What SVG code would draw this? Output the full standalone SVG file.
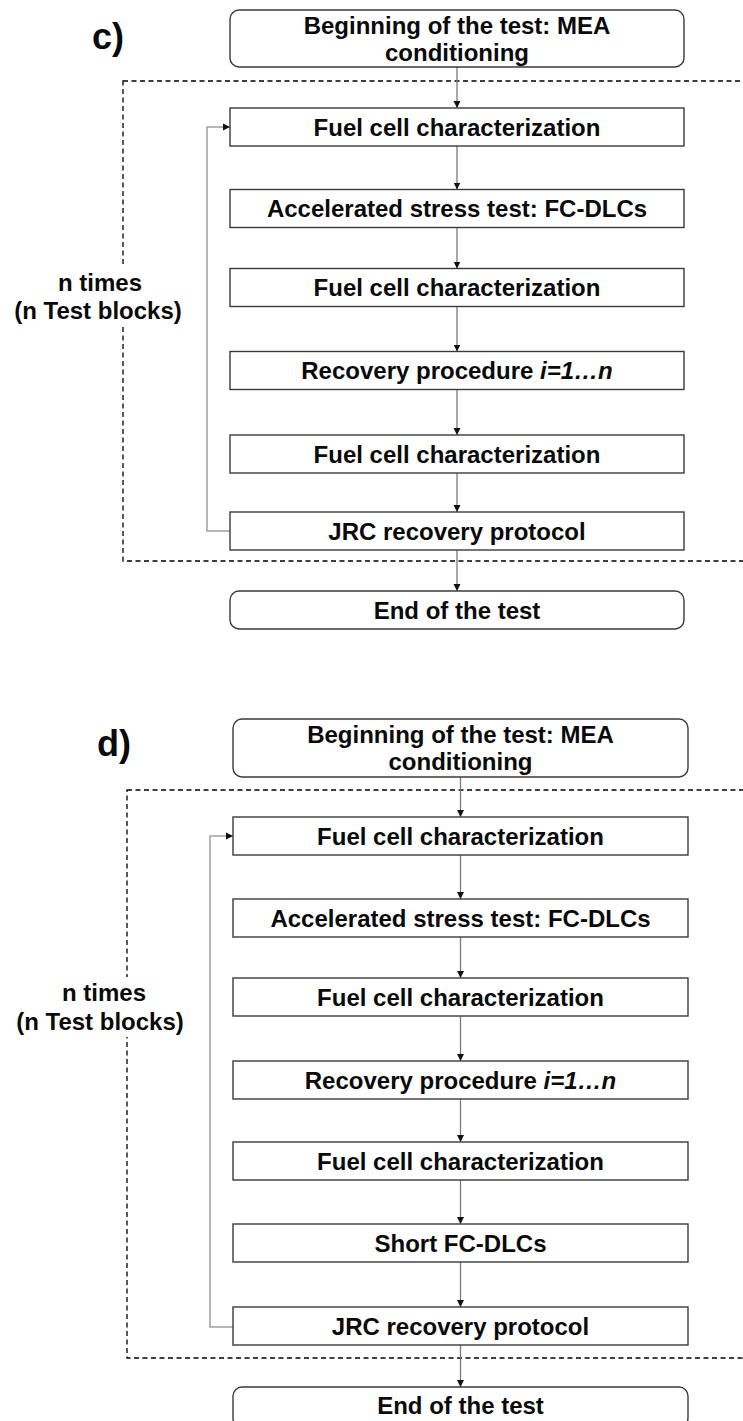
<svg xmlns="http://www.w3.org/2000/svg" width="743" height="1421" viewBox="0 0 743 1421">
  <style>
    .box { fill: #ffffff; stroke: #3a3a3a; stroke-width: 1.4; }
    .lbl { font-family: "Liberation Sans", Arial, sans-serif; font-weight: bold; font-size: 24px; fill: #0a0a0a; text-anchor: middle; }
    .tag { font-family: "Liberation Sans", Arial, sans-serif; font-weight: bold; font-size: 36px; fill: #0a0a0a; }
    .frame { fill: none; stroke: #000000; stroke-width: 1.3; stroke-dasharray: 5 3.5; }
    .flow { fill: none; stroke: #7a7a7a; stroke-width: 1.3; marker-end: url(#arrow); }
    .loop { fill: none; stroke: #a0a0a0; stroke-width: 1.5; marker-end: url(#arrow); }
    .mask { fill: #ffffff; }
  </style>
  <defs>
    <marker id="arrow" markerWidth="8" markerHeight="8" refX="7" refY="4" orient="auto" markerUnits="userSpaceOnUse">
      <path d="M0,0.5 L7,4 L0,7.5 Z" fill="#111111"/>
    </marker>
  </defs>
  <rect x="0" y="0" width="743" height="1421" fill="#ffffff"/>

  <!-- ===== Panel c ===== -->
  <text class="tag" x="92" y="49">c)</text>
  <rect class="frame" x="123" y="81" width="640" height="480"/>
  <g id="c-repeat-label">
    <rect class="mask" x="13" y="267" width="177" height="60"/>
    <text class="lbl" x="100" y="291">n times</text>
    <text class="lbl" x="98" y="319">(n Test blocks)</text>
  </g>

  <g id="c-connectors">
    <line class="flow" x1="457" y1="67" x2="457" y2="108"/>
    <line class="flow" x1="457" y1="146" x2="457" y2="189.5"/>
    <line class="flow" x1="457" y1="227.5" x2="457" y2="268.5"/>
    <line class="flow" x1="457" y1="306.5" x2="457" y2="351.5"/>
    <line class="flow" x1="457" y1="389.5" x2="457" y2="435"/>
    <line class="flow" x1="457" y1="473" x2="457" y2="512"/>
    <line class="flow" x1="457" y1="550" x2="457" y2="591"/>
    <polyline class="loop" points="230,531 207,531 207,127 230,127"/>
  </g>

  <g id="c-start">
    <rect class="box" x="230" y="10" width="454" height="57" rx="9"/>
    <text class="lbl" x="457" y="34">Beginning of the test: MEA</text>
    <text class="lbl" x="457" y="61">conditioning</text>
  </g>
  <g id="c-char1">
    <rect class="box" x="230" y="108" width="454" height="38"/>
    <text class="lbl" x="457" y="135.5">Fuel cell characterization</text>
  </g>
  <g id="c-ast">
    <rect class="box" x="230" y="189.5" width="454" height="38"/>
    <text class="lbl" x="457" y="217">Accelerated stress test: FC-DLCs</text>
  </g>
  <g id="c-char2">
    <rect class="box" x="230" y="268.5" width="454" height="38"/>
    <text class="lbl" x="457" y="296">Fuel cell characterization</text>
  </g>
  <g id="c-recovery">
    <rect class="box" x="230" y="351.5" width="454" height="38"/>
    <text class="lbl" x="457" y="379">Recovery procedure <tspan font-style="italic">i=1…n</tspan></text>
  </g>
  <g id="c-char3">
    <rect class="box" x="230" y="435" width="454" height="38"/>
    <text class="lbl" x="457" y="462.5">Fuel cell characterization</text>
  </g>
  <g id="c-jrc">
    <rect class="box" x="230" y="512" width="454" height="38"/>
    <text class="lbl" x="457" y="539.5">JRC recovery protocol</text>
  </g>
  <g id="c-end">
    <rect class="box" x="230" y="591" width="454" height="38" rx="9"/>
    <text class="lbl" x="457" y="618.5">End of the test</text>
  </g>

  <!-- ===== Panel d ===== -->
  <text class="tag" x="97" y="756">d)</text>
  <rect class="frame" x="127" y="790" width="640" height="568"/>
  <g id="d-repeat-label">
    <rect class="mask" x="15" y="977" width="178" height="60"/>
    <text class="lbl" x="104" y="1000.5">n times</text>
    <text class="lbl" x="100" y="1029.5">(n Test blocks)</text>
  </g>

  <g id="d-connectors">
    <line class="flow" x1="460.5" y1="777" x2="460.5" y2="817"/>
    <line class="flow" x1="460.5" y1="855" x2="460.5" y2="899"/>
    <line class="flow" x1="460.5" y1="937" x2="460.5" y2="978"/>
    <line class="flow" x1="460.5" y1="1016" x2="460.5" y2="1061"/>
    <line class="flow" x1="460.5" y1="1099" x2="460.5" y2="1142"/>
    <line class="flow" x1="460.5" y1="1180" x2="460.5" y2="1224"/>
    <line class="flow" x1="460.5" y1="1262" x2="460.5" y2="1307"/>
    <line class="flow" x1="460.5" y1="1345" x2="460.5" y2="1387"/>
    <polyline class="loop" points="233,1327 210,1327 210,836 233,836"/>
  </g>

  <g id="d-start">
    <rect class="box" x="233" y="719" width="455" height="58" rx="9"/>
    <text class="lbl" x="460.5" y="743">Beginning of the test: MEA</text>
    <text class="lbl" x="460.5" y="770">conditioning</text>
  </g>
  <g id="d-char1">
    <rect class="box" x="233" y="817" width="455" height="38"/>
    <text class="lbl" x="460.5" y="844.5">Fuel cell characterization</text>
  </g>
  <g id="d-ast">
    <rect class="box" x="233" y="899" width="455" height="38"/>
    <text class="lbl" x="460.5" y="926.5">Accelerated stress test: FC-DLCs</text>
  </g>
  <g id="d-char2">
    <rect class="box" x="233" y="978" width="455" height="38"/>
    <text class="lbl" x="460.5" y="1005.5">Fuel cell characterization</text>
  </g>
  <g id="d-recovery">
    <rect class="box" x="233" y="1061" width="455" height="38"/>
    <text class="lbl" x="460.5" y="1088.5">Recovery procedure <tspan font-style="italic">i=1…n</tspan></text>
  </g>
  <g id="d-char3">
    <rect class="box" x="233" y="1142" width="455" height="38"/>
    <text class="lbl" x="460.5" y="1169.5">Fuel cell characterization</text>
  </g>
  <g id="d-short">
    <rect class="box" x="233" y="1224" width="455" height="38"/>
    <text class="lbl" x="460.5" y="1251.5">Short FC-DLCs</text>
  </g>
  <g id="d-jrc">
    <rect class="box" x="233" y="1307" width="455" height="38"/>
    <text class="lbl" x="460.5" y="1334.5">JRC recovery protocol</text>
  </g>
  <g id="d-end">
    <rect class="box" x="233" y="1387" width="455" height="40" rx="9"/>
    <text class="lbl" x="460.5" y="1414">End of the test</text>
  </g>
</svg>
